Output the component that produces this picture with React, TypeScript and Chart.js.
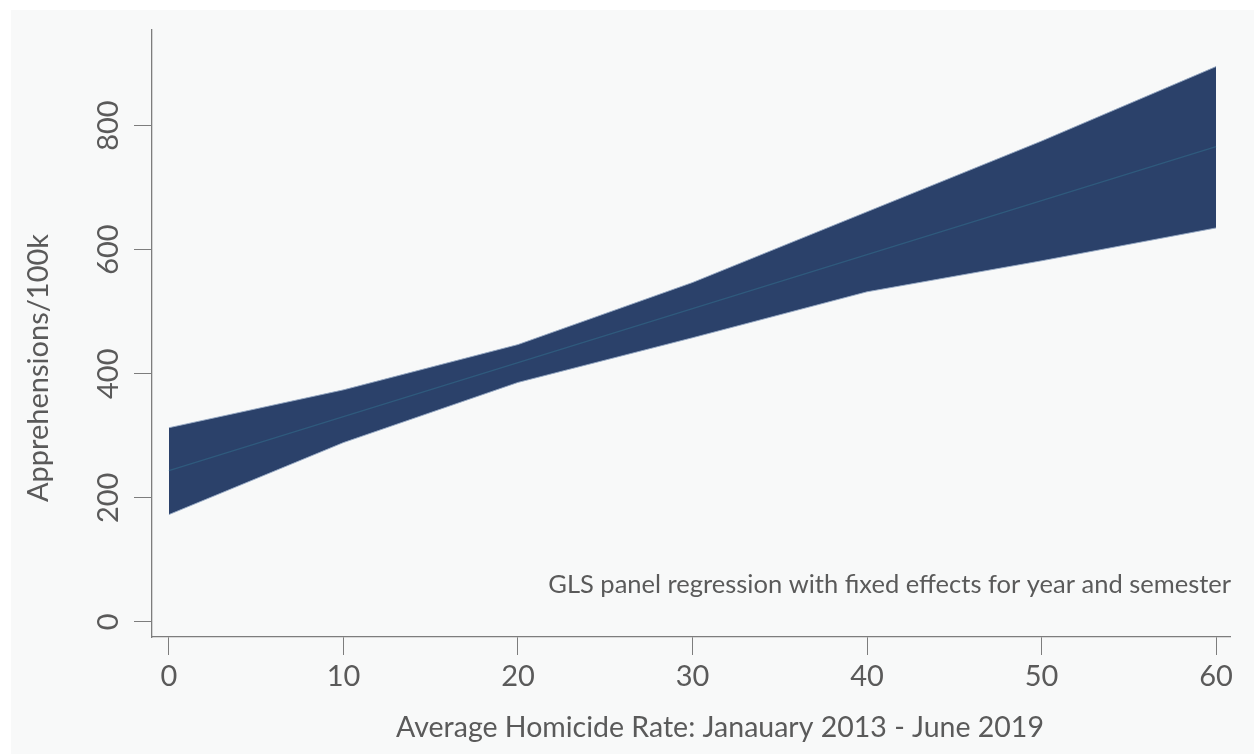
import React, { useEffect, useRef } from "react";
import { Chart, registerables } from "chart.js";

Chart.register(...registerables);

// ---- data ----
const homicideRate = [0, 10, 20, 30, 40, 50, 60];
const upperCI = [313, 374, 447, 547, 661, 775, 895];
const lowerCI = [173, 289, 386, 458, 532, 582, 635];
const fitted = [244, 331, 418, 505, 592, 679, 766];
const xTickValues = [0, 10, 20, 30, 40, 50, 60];
const yTickValues = [0, 200, 400, 600, 800];
const yTitle = "Apprehensions/100k";
const xTitle = "Average Homicide Rate: Janauary 2013 - June 2019";
const noteText = "GLS panel regression with fixed effects for year and semester";

// ---- styles ----
const FONT = "Lato, 'Open Sans', sans-serif";
const TEXT = "#5a5a5a";
const AXIS = "#7d7d7d";
const BAND = "#2b416a";
const EDGE = "rgba(150,168,195,0.9)";
const LINE = "#2f5a7d";
const PANEL = "#f8f9f9";

const toPoints = (ys: number[]) => homicideRate.map((x, i) => ({ x, y: ys[i] }));

export default function App() {
  const ref = useRef<HTMLCanvasElement | null>(null);

  useEffect(() => {
    document.body.style.margin = "0";
    const canvas = ref.current;
    if (!canvas) return;

    const bgPlugin = {
      id: "bg",
      beforeDraw(chart: any) {
        const { ctx, width, height } = chart;
        ctx.save();
        ctx.fillStyle = "#ffffff";
        ctx.fillRect(0, 0, width, height);
        ctx.fillStyle = PANEL;
        ctx.fillRect(11, 10, width - 11, height - 10);
        ctx.restore();
      },
    };

    const textPlugin = {
      id: "texts",
      afterDraw(chart: any) {
        const { ctx } = chart;
        ctx.save();
        ctx.fillStyle = TEXT;
        ctx.textBaseline = "middle";
        // x title
        ctx.font = `28.5px ${FONT}`;
        ctx.textAlign = "center";
        ctx.fillText(xTitle, 720, 728);
        // note
        ctx.font = `25.5px ${FONT}`;
        ctx.textAlign = "right";
        ctx.fillText(noteText, 1231, 585);
        // y title
        ctx.font = `29px ${FONT}`;
        ctx.translate(39, 368);
        ctx.rotate(-Math.PI / 2);
        ctx.textAlign = "center";
        ctx.fillText(yTitle, 0, 0);
        ctx.restore();
      },
    };

    const chart = new Chart(canvas, {
      type: "line",
      data: {
        datasets: [
          {
            label: "upper",
            data: toPoints(upperCI),
            borderColor: EDGE,
            borderWidth: 1,
            backgroundColor: BAND,
            fill: "+1",
            pointRadius: 0,
            tension: 0,
            order: 2,
          },
          {
            label: "lower",
            data: toPoints(lowerCI),
            borderColor: EDGE,
            borderWidth: 1,
            fill: false,
            pointRadius: 0,
            tension: 0,
            order: 2,
          },
          {
            label: "fitted",
            data: toPoints(fitted),
            borderColor: LINE,
            borderWidth: 1.3,
            fill: false,
            pointRadius: 0,
            tension: 0,
            order: 0,
          },
        ],
      },
      options: {
        animation: false,
        responsive: false,
        events: [],
        layout: { padding: { left: 0, top: 30, right: 24, bottom: 0 } },
        plugins: {
          legend: { display: false },
          tooltip: { enabled: false },
          filler: { drawTime: "beforeDatasetsDraw" } as any,
        },
        scales: {
          x: {
            type: "linear",
            min: -0.97,
            max: 60.8,
            afterBuildTicks: (s: any) => {
              s.ticks = xTickValues.map((v) => ({ value: v }));
            },
            afterFit: (s: any) => {
              s.height = 117;
            },
            grid: {
              display: true,
              drawOnChartArea: false,
              drawTicks: true,
              tickLength: 18,
              color: AXIS,
              lineWidth: 1,
            },
            border: { display: true, color: AXIS, width: 1.3 },
            ticks: {
              font: { family: FONT, size: 29 },
              color: TEXT,
              padding: 4,
              maxRotation: 0,
              minRotation: 0,
              autoSkip: false,
            },
          },
          y: {
            type: "linear",
            min: -24.3,
            max: 954,
            afterBuildTicks: (s: any) => {
              s.ticks = yTickValues.map((v) => ({ value: v }));
            },
            afterFit: (s: any) => {
              s.width = 152;
            },
            grid: {
              display: true,
              drawOnChartArea: false,
              drawTicks: true,
              tickLength: 18,
              color: AXIS,
              lineWidth: 1,
            },
            border: { display: true, color: AXIS, width: 1.3 },
            ticks: {
              font: { family: FONT, size: 29 },
              color: TEXT,
              padding: 0,
              minRotation: 90,
              maxRotation: 90,
              crossAlign: "center",
              autoSkip: false,
            },
          },
        },
      },
      plugins: [bgPlugin, textPlugin],
    } as any);

    return () => chart.destroy();
  }, []);

  return (
    <div style={{ width: 1254, height: 754, position: "relative" }}>
      <canvas ref={ref} width={1254} height={754} style={{ display: "block", width: 1254, height: 754 }} />
    </div>
  );
}
